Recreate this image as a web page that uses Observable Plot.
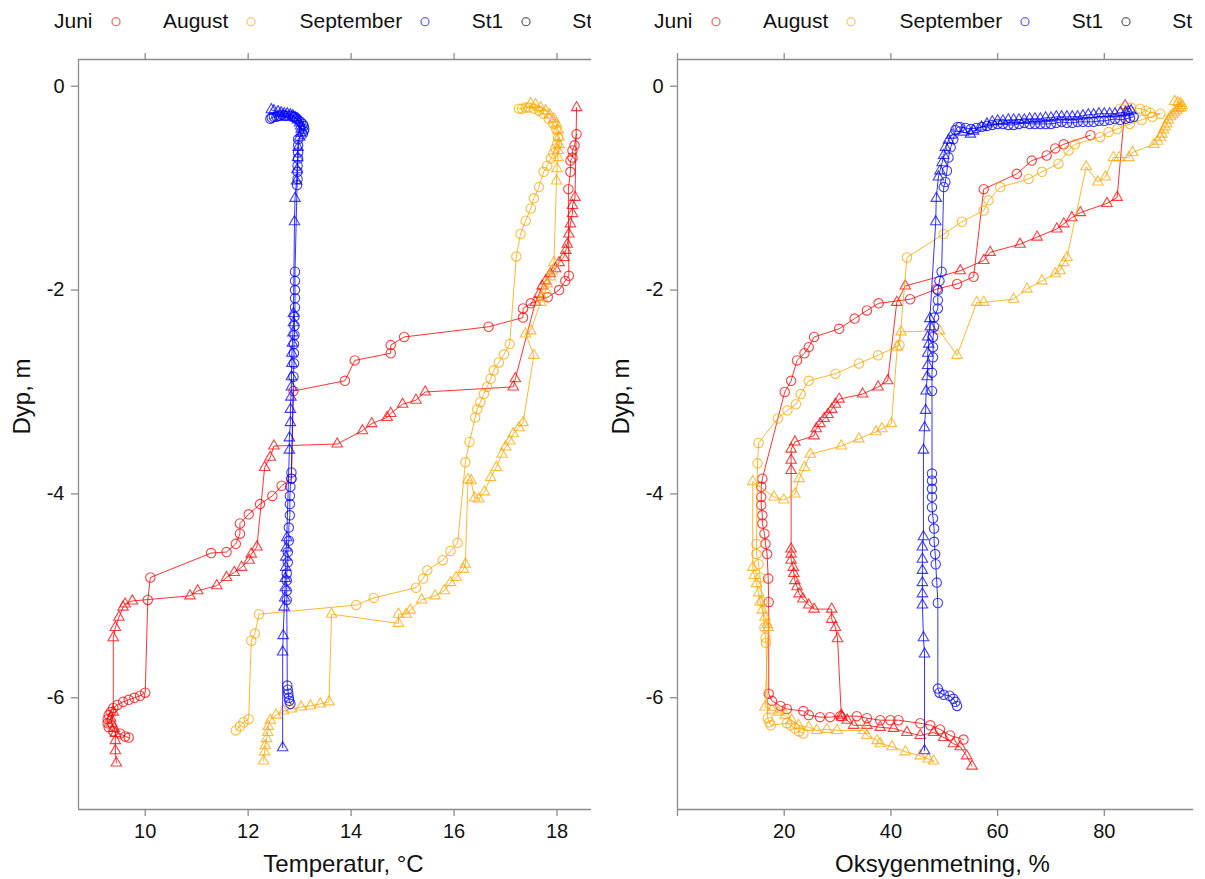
<!DOCTYPE html>
<html><head><meta charset="utf-8">
<script src="https://cdn.jsdelivr.net/npm/d3@7"></script>
<script src="https://cdn.jsdelivr.net/npm/@observablehq/plot@0.6"></script>
<style>
body{margin:0;background:#fff;font-family:"Liberation Sans",Arial,sans-serif;}
#wrap{position:relative;width:1205px;height:879px;overflow:hidden;background:#fff;}
.panel{position:absolute;top:0;height:879px;overflow:hidden;}
.legend{position:absolute;top:0;left:0;height:40px;width:700px;font-size:21px;color:#111;}
.legend span{position:absolute;top:7px;line-height:28px;white-space:nowrap;}
.legend svg{position:absolute;top:0;}
.chart{position:absolute;top:40px;left:0;width:620px;height:839px;}
.chart svg{max-width:none !important;width:620px !important;height:839px !important;display:block;}
</style></head>
<body><div id="wrap">
<div class="panel" id="p1" style="left:0;width:591px"></div>
<div class="panel" id="p2" style="left:600px;width:593px"></div>
</div>
<script>
// ---------- DATA: [depth (m), value] ----------
const months = ["Juni", "August", "September"];
const stations = ["St1", "St2"];
const legendLabels = ["Juni", "August", "September", "St1", "St2"];
const tempTicks = [10, 12, 14, 16, 18];
const oxyTicks = [0, 20, 40, 60, 80];
const depthTicks = [0, -2, -4, -6];

// Temperature, °C
const tempJuniSt1 = [[-0.47,18.38],[-0.58,18.34],[-0.63,18.30],[-0.70,18.30],[-0.73,18.26],[-0.84,18.26],[-1.01,18.22],[-1.86,18.23],[-1.91,18.16],[-2.00,18.04],[-2.07,17.82],[-2.13,17.49],[-2.18,17.34],[-2.27,17.34],[-2.36,16.67],[-2.46,15.03],[-2.54,14.77],[-2.62,14.77],[-2.69,14.07],[-2.89,13.88],[-2.99,12.88],[-3.85,12.84],[-3.92,12.65],[-4.02,12.47],[-4.10,12.23],[-4.20,12.01],[-4.29,11.84],[-4.39,11.84],[-4.49,11.76],[-4.57,11.58],[-4.58,11.28],[-4.82,10.10],[-5.04,10.05],[-5.95,10.00],[-5.98,9.90],[-6.00,9.79],[-6.02,9.68],[-6.04,9.57],[-6.07,9.46],[-6.10,9.38],[-6.14,9.33],[-6.17,9.29],[-6.21,9.27],[-6.25,9.27],[-6.29,9.29],[-6.33,9.38],[-6.35,9.51],[-6.38,9.61],[-6.39,9.68]];
const tempJuniSt2 = [[-0.21,18.38],[-1.09,18.35],[-1.17,18.30],[-1.25,18.30],[-1.35,18.26],[-1.45,18.23],[-1.55,18.20],[-1.61,18.17],[-1.68,18.13],[-1.73,18.04],[-1.79,17.97],[-1.84,17.87],[-1.91,17.78],[-1.96,17.71],[-2.04,17.65],[-2.12,17.58],[-2.87,17.19],[-2.95,17.15],[-3.00,15.44],[-3.08,15.26],[-3.12,15.00],[-3.21,14.77],[-3.25,14.70],[-3.31,14.40],[-3.38,14.22],[-3.51,13.73],[-3.53,12.50],[-3.64,12.43],[-3.74,12.32],[-4.52,12.17],[-4.59,12.06],[-4.65,12.02],[-4.72,11.87],[-4.77,11.73],[-4.82,11.58],[-4.90,11.39],[-4.95,11.02],[-5.00,10.87],[-5.05,9.75],[-5.08,9.61],[-5.11,9.57],[-5.21,9.49],[-5.31,9.42],[-5.41,9.38],[-6.14,9.38],[-6.20,9.33],[-6.25,9.35],[-6.30,9.40],[-6.35,9.42],[-6.42,9.42],[-6.52,9.42],[-6.64,9.44]];
const tempAugSt1 = [[-0.22,17.26],[-0.22,17.32],[-0.21,17.39],[-0.21,17.45],[-0.22,17.55],[-0.24,17.65],[-0.27,17.74],[-0.32,17.84],[-0.37,17.93],[-0.43,17.99],[-0.50,18.02],[-0.57,18.00],[-0.61,17.97],[-0.66,17.93],[-0.71,17.88],[-0.78,17.81],[-0.84,17.74],[-0.99,17.65],[-1.10,17.55],[-1.20,17.49],[-1.32,17.39],[-1.45,17.29],[-1.67,17.21],[-2.53,17.08],[-2.63,16.97],[-2.71,16.87],[-2.79,16.77],[-2.87,16.71],[-2.95,16.64],[-3.02,16.58],[-3.10,16.51],[-3.17,16.45],[-3.25,16.41],[-3.49,16.30],[-3.69,16.22],[-4.48,16.07],[-4.56,15.93],[-4.65,15.78],[-4.75,15.48],[-4.83,15.40],[-4.92,15.26],[-5.02,14.44],[-5.09,14.10],[-5.18,12.21],[-5.37,12.13],[-5.44,12.06],[-6.21,12.01],[-6.24,11.91],[-6.28,11.84],[-6.32,11.76]];
const tempAugSt2 = [[-0.17,17.49],[-0.18,17.58],[-0.21,17.68],[-0.24,17.78],[-0.28,17.86],[-0.32,17.94],[-0.37,17.99],[-0.43,18.02],[-0.50,18.04],[-0.57,18.04],[-0.63,18.02],[-0.70,18.02],[-0.81,18.00],[-0.93,17.99],[-1.73,17.94],[-1.81,17.91],[-1.87,17.87],[-1.94,17.81],[-2.00,17.78],[-2.07,17.71],[-2.12,17.68],[-2.40,17.49],[-2.43,17.39],[-2.64,17.55],[-3.30,17.34],[-3.35,17.26],[-3.41,17.15],[-3.48,17.08],[-3.54,17.00],[-3.61,16.93],[-3.74,16.82],[-3.84,16.71],[-3.98,16.59],[-4.05,16.48],[-4.04,16.40],[-3.87,16.33],[-3.86,16.27],[-4.69,16.22],[-4.74,16.18],[-4.82,16.04],[-4.87,15.93],[-4.95,15.81],[-5.00,15.63],[-5.04,15.37],[-5.14,15.15],[-5.18,15.07],[-5.18,14.92],[-5.27,14.92],[-5.18,13.62],[-6.04,13.57],[-6.06,13.40],[-6.08,13.21],[-6.09,13.03],[-6.11,12.84],[-6.13,12.69],[-6.17,12.54],[-6.22,12.43],[-6.28,12.39],[-6.34,12.38],[-6.40,12.36],[-6.47,12.33],[-6.53,12.32],[-6.62,12.30]];
const tempSepSt1 = [[-0.32,12.43],[-0.31,12.46],[-0.30,12.50],[-0.30,12.55],[-0.29,12.59],[-0.29,12.62],[-0.28,12.66],[-0.29,12.70],[-0.29,12.73],[-0.29,12.78],[-0.29,12.84],[-0.30,12.88],[-0.30,12.91],[-0.32,12.95],[-0.34,12.99],[-0.35,13.02],[-0.37,13.06],[-0.39,13.08],[-0.42,13.09],[-0.44,13.08],[-0.47,13.06],[-0.52,12.97],[-0.58,12.97],[-0.65,12.97],[-0.71,12.97],[-0.78,12.96],[-0.84,12.96],[-0.91,12.96],[-0.97,12.95],[-1.82,12.91],[-1.91,12.91],[-2.00,12.91],[-2.08,12.91],[-2.17,12.91],[-2.26,12.90],[-2.35,12.90],[-2.44,12.90],[-2.53,12.89],[-2.62,12.89],[-2.72,12.89],[-2.85,12.88],[-3.79,12.84],[-3.85,12.84],[-3.93,12.82],[-4.02,12.81],[-4.10,12.81],[-4.21,12.81],[-4.33,12.79],[-4.46,12.79],[-4.57,12.77],[-4.67,12.77],[-4.78,12.75],[-4.85,12.75],[-4.95,12.75],[-5.04,12.75],[-5.88,12.76],[-5.92,12.77],[-5.96,12.78],[-6.00,12.79],[-6.03,12.80],[-6.06,12.82]];
const tempSepSt2 = [[-0.23,12.45],[-0.24,12.50],[-0.25,12.58],[-0.26,12.64],[-0.27,12.70],[-0.27,12.76],[-0.28,12.82],[-0.29,12.87],[-0.31,12.92],[-0.33,12.96],[-0.36,13.00],[-0.39,13.02],[-0.42,13.03],[-0.46,13.02],[-0.50,13.00],[-0.60,12.97],[-0.70,12.96],[-0.82,12.95],[-0.93,12.94],[-1.10,12.91],[-1.33,12.90],[-2.23,12.88],[-2.32,12.88],[-2.42,12.87],[-2.52,12.86],[-2.62,12.85],[-2.72,12.85],[-2.85,12.84],[-2.95,12.84],[-3.05,12.83],[-3.17,12.82],[-3.30,12.82],[-3.45,12.80],[-3.57,12.80],[-4.43,12.75],[-4.53,12.74],[-4.62,12.73],[-4.72,12.73],[-4.83,12.72],[-4.92,12.72],[-5.02,12.71],[-5.11,12.70],[-5.39,12.68],[-5.55,12.67],[-6.49,12.67]];

// Oxygen saturation, %
const oxyJuniSt1 = [[-0.48,77.4],[-0.57,72.4],[-0.61,70.8],[-0.68,69.2],[-0.73,66.4],[-0.86,63.6],[-1.01,57.4],[-1.87,55.5],[-1.94,52.4],[-1.99,48.6],[-2.09,43.6],[-2.13,37.7],[-2.20,35.5],[-2.28,33.2],[-2.38,30.3],[-2.46,25.6],[-2.56,24.6],[-2.62,23.8],[-2.69,22.4],[-2.89,21.3],[-3.00,20.1],[-3.85,15.9],[-3.93,15.7],[-4.03,15.7],[-4.11,15.7],[-4.21,15.9],[-4.29,15.9],[-4.39,16.3],[-4.49,16.5],[-4.59,16.8],[-4.83,17.0],[-5.06,17.1],[-5.96,17.1],[-6.03,17.7],[-6.08,19.3],[-6.11,20.5],[-6.13,23.6],[-6.17,24.6],[-6.19,26.7],[-6.19,28.6],[-6.18,30.5],[-6.18,33.6],[-6.20,35.5],[-6.22,38.0],[-6.22,39.9],[-6.22,41.4],[-6.25,45.5],[-6.27,47.4],[-6.31,49.2],[-6.37,51.1],[-6.41,53.6]];
const oxyJuniSt2 = [[-0.19,83.9],[-1.09,82.4],[-1.15,80.5],[-1.24,75.5],[-1.29,73.9],[-1.35,72.4],[-1.40,71.1],[-1.48,67.4],[-1.55,64.2],[-1.63,58.6],[-1.71,57.4],[-1.81,53.0],[-1.96,42.7],[-2.12,41.1],[-2.89,39.4],[-2.95,37.6],[-3.02,34.7],[-3.07,30.3],[-3.12,29.6],[-3.17,28.9],[-3.22,28.2],[-3.26,27.5],[-3.31,26.7],[-3.36,26.0],[-3.43,25.6],[-3.49,22.0],[-3.56,21.3],[-3.67,21.3],[-3.77,21.3],[-4.54,21.3],[-4.59,21.3],[-4.65,21.3],[-4.72,21.7],[-4.78,21.8],[-4.85,22.0],[-4.91,22.4],[-4.98,22.8],[-5.03,23.5],[-5.09,24.6],[-5.13,25.6],[-5.13,28.9],[-5.23,28.9],[-5.31,29.6],[-5.42,30.0],[-6.17,30.7],[-6.19,30.8],[-6.22,31.8],[-6.27,33.0],[-6.27,35.5],[-6.29,38.0],[-6.30,40.5],[-6.34,43.0],[-6.37,45.5],[-6.34,48.0],[-6.39,49.9],[-6.45,51.7],[-6.48,53.0],[-6.57,54.2],[-6.67,55.2]];
const oxyAugSt1 = [[-0.22,83.0],[-0.21,85.0],[-0.22,86.7],[-0.24,87.8],[-0.26,88.6],[-0.27,90.5],[-0.30,89.0],[-0.33,87.0],[-0.37,84.8],[-0.42,82.4],[-0.45,80.8],[-0.50,79.2],[-0.57,74.5],[-0.63,73.3],[-0.76,71.4],[-0.84,68.3],[-0.91,65.8],[-0.99,60.5],[-1.12,58.3],[-1.22,57.4],[-1.33,53.3],[-1.45,49.9],[-1.68,43.0],[-2.54,41.6],[-2.64,37.6],[-2.72,34.0],[-2.82,29.6],[-2.89,24.6],[-3.02,23.1],[-3.12,22.2],[-3.18,20.6],[-3.26,18.8],[-3.50,15.2],[-3.70,15.0],[-4.49,14.8],[-4.59,14.8],[-4.69,15.2],[-4.82,15.5],[-5.06,15.9],[-5.31,16.3],[-5.41,16.5],[-5.46,16.6],[-6.20,16.9],[-6.24,17.2],[-6.27,17.5],[-6.25,20.5],[-6.27,21.2],[-6.30,22.0],[-6.33,22.8],[-6.35,23.6]];
const oxyAugSt2 = [[-0.15,93.2],[-0.16,93.8],[-0.17,94.3],[-0.19,94.6],[-0.21,94.4],[-0.22,94.0],[-0.24,93.6],[-0.26,93.2],[-0.28,92.8],[-0.30,92.4],[-0.33,92.0],[-0.37,91.7],[-0.40,91.4],[-0.43,91.1],[-0.47,90.8],[-0.50,90.5],[-0.54,90.0],[-0.57,89.3],[-0.65,85.3],[-0.70,84.6],[-0.70,82.8],[-0.70,81.7],[-0.89,80.2],[-0.94,78.8],[-0.79,76.6],[-1.68,73.0],[-1.73,72.4],[-1.81,71.7],[-1.84,70.8],[-1.91,68.3],[-1.99,65.5],[-2.09,63.0],[-2.12,57.4],[-2.12,56.1],[-2.64,52.4],[-2.40,49.1],[-2.41,41.9],[-2.56,41.2],[-3.31,40.1],[-3.36,38.3],[-3.39,37.2],[-3.46,34.0],[-3.53,30.7],[-3.61,24.9],[-3.74,23.8],[-3.85,22.8],[-4.00,22.0],[-4.06,19.9],[-4.03,18.1],[-3.88,14.1],[-4.72,14.1],[-4.80,14.4],[-4.88,14.8],[-4.97,15.2],[-5.06,15.5],[-5.14,15.9],[-5.21,16.4],[-5.28,16.8],[-5.31,17.0],[-6.09,16.4],[-6.12,17.7],[-6.14,18.9],[-6.17,20.2],[-6.22,21.4],[-6.27,22.7],[-6.29,24.6],[-6.32,26.1],[-6.31,28.0],[-6.32,29.9],[-6.32,34.9],[-6.37,35.5],[-6.42,37.4],[-6.45,38.0],[-6.48,40.2],[-6.53,42.7],[-6.57,45.5],[-6.60,47.0],[-6.62,48.0]];
const oxySepSt1 = [[-0.30,85.5],[-0.31,84.8],[-0.32,84.0],[-0.33,83.0],[-0.32,82.0],[-0.33,81.0],[-0.34,80.0],[-0.34,79.0],[-0.35,78.0],[-0.35,77.0],[-0.35,76.0],[-0.35,75.0],[-0.36,74.0],[-0.36,73.0],[-0.35,72.0],[-0.36,71.0],[-0.37,70.0],[-0.37,69.0],[-0.37,68.0],[-0.37,67.0],[-0.37,66.0],[-0.36,65.0],[-0.37,64.0],[-0.38,63.0],[-0.38,62.0],[-0.37,61.0],[-0.37,60.0],[-0.38,59.0],[-0.39,58.0],[-0.40,57.0],[-0.41,56.0],[-0.42,55.0],[-0.41,54.0],[-0.40,53.0],[-0.40,52.5],[-0.43,52.1],[-0.52,51.7],[-0.60,51.2],[-0.70,50.8],[-0.83,50.5],[-0.94,50.2],[-0.99,49.9],[-1.82,49.5],[-1.91,49.1],[-2.00,48.8],[-2.10,48.8],[-2.18,48.8],[-2.27,48.1],[-2.36,48.1],[-2.46,47.9],[-2.56,47.9],[-2.66,47.9],[-2.81,47.7],[-2.99,47.7],[-3.80,47.7],[-3.87,47.7],[-3.95,47.7],[-4.03,47.7],[-4.13,47.7],[-4.24,47.9],[-4.34,48.1],[-4.47,48.1],[-4.59,48.3],[-4.69,48.4],[-4.87,48.6],[-5.07,48.8],[-5.91,48.8],[-5.95,49.1],[-5.97,49.9],[-5.98,51.0],[-6.01,51.7],[-6.04,52.1],[-6.08,52.4]];
const oxySepSt2 = [[-0.24,85.0],[-0.25,84.5],[-0.26,84.0],[-0.26,83.0],[-0.27,82.0],[-0.27,81.0],[-0.27,80.0],[-0.27,79.0],[-0.28,78.0],[-0.28,77.0],[-0.29,76.0],[-0.30,75.0],[-0.30,74.0],[-0.30,73.0],[-0.30,72.0],[-0.30,71.0],[-0.31,70.0],[-0.31,69.0],[-0.32,68.0],[-0.32,67.0],[-0.32,66.0],[-0.33,65.0],[-0.33,64.0],[-0.33,63.0],[-0.33,62.0],[-0.34,61.0],[-0.34,60.0],[-0.35,59.0],[-0.37,58.0],[-0.40,57.0],[-0.44,55.5],[-0.47,54.9],[-0.45,53.6],[-0.48,51.4],[-0.53,50.8],[-0.60,50.2],[-0.68,49.9],[-0.75,49.6],[-0.83,49.2],[-0.89,48.9],[-1.10,48.5],[-1.33,48.4],[-2.28,47.3],[-2.36,47.4],[-2.46,46.9],[-2.53,47.1],[-2.62,46.9],[-2.74,46.9],[-2.85,46.8],[-2.99,46.6],[-3.18,46.5],[-3.35,46.3],[-3.57,46.1],[-4.42,46.1],[-4.52,45.9],[-4.64,45.9],[-4.75,45.9],[-4.87,45.9],[-4.98,45.9],[-5.09,45.9],[-5.41,46.1],[-5.57,46.3],[-6.52,46.3]];

// ---------- RENDER ----------
const monthColor = {Juni: "#ff0000", August: "#ffa500", September: "#0000ff"};
const axisGray = "#8c8c8c";
const FONT = "'Liberation Sans', Arial, sans-serif";

const tempSeries = [
  ["Juni", "St1", tempJuniSt1], ["Juni", "St2", tempJuniSt2],
  ["August", "St1", tempAugSt1], ["August", "St2", tempAugSt2],
  ["September", "St1", tempSepSt1], ["September", "St2", tempSepSt2]
];
const oxySeries = [
  ["Juni", "St1", oxyJuniSt1], ["Juni", "St2", oxyJuniSt2],
  ["August", "St1", oxyAugSt1], ["August", "St2", oxyAugSt2],
  ["September", "St1", oxySepSt1], ["September", "St2", oxySepSt2]
];

function buildLegend(container) {
  const textX = [54, 163, 299.5, 471.7, 572.2];
  const symX = [115.5, 250.7, 424.8, 526.4, 625];
  const symColor = ["rgba(255,0,0,0.6)", "rgba(255,165,0,0.6)", "rgba(0,0,255,0.6)", "rgba(0,0,0,0.6)", "rgba(0,0,0,0.6)"];
  const lg = document.createElement("div");
  lg.className = "legend";
  legendLabels.forEach((lab, i) => {
    const s = document.createElement("span");
    s.textContent = lab;
    s.style.left = textX[i] + "px";
    lg.appendChild(s);
    const ns = "http://www.w3.org/2000/svg";
    const sv = document.createElementNS(ns, "svg");
    sv.setAttribute("width", 14); sv.setAttribute("height", 40);
    sv.style.left = (symX[i] - 7) + "px";
    let shape;
    if (i === 4) {
      shape = document.createElementNS(ns, "path");
      shape.setAttribute("d", "M7,17L11.5,25.5L2.5,25.5Z");
    } else {
      shape = document.createElementNS(ns, "circle");
      shape.setAttribute("cx", 7); shape.setAttribute("cy", 21.7); shape.setAttribute("r", 4);
    }
    shape.setAttribute("fill", "none");
    shape.setAttribute("stroke", symColor[i]);
    shape.setAttribute("stroke-width", 1.3);
    sv.appendChild(shape);
    lg.appendChild(sv);
  });
  container.appendChild(lg);
}

function buildPanel(container, series, xDomain, xTicks, xLabelFmt, xTitle, marginLeft) {
  const yDomain = [-7.096, 0.262];
  const marks = [
    Plot.ruleY([yDomain[1]], {stroke: axisGray, strokeWidth: 1.3}),
    Plot.ruleY([yDomain[0]], {stroke: axisGray, strokeWidth: 1.3}),
    Plot.ruleX([xDomain[0]], {stroke: axisGray, strokeWidth: 1.3}),
    Plot.axisY({ticks: depthTicks, tickSize: 7, tickPadding: 7, tickFormat: d => String(d),
      stroke: axisGray, fill: "#111", strokeWidth: 1.3, fontSize: 20, label: null}),
    Plot.axisX({anchor: "bottom", ticks: xTicks, tickSize: 7, tickPadding: 7, tickFormat: xLabelFmt,
      stroke: axisGray, fill: "#111", strokeWidth: 1.3, fontSize: 20, label: null}),
    Plot.axisX({anchor: "top", ticks: xTicks, tickSize: 7, tickFormat: () => "",
      stroke: axisGray, strokeWidth: 1.3, label: null}),
    Plot.text([xTitle], {text: d => d, frameAnchor: "bottom", dy: 54.5, fontSize: 24, fill: "#111", lineAnchor: "middle"}),
    Plot.text(["Dyp, m"], {text: d => d, frameAnchor: "left", dx: -56, rotate: -90, fontSize: 24, fill: "#111", lineAnchor: "middle"})
  ];
  for (const [m, st, data] of series) {
    const c = monthColor[m];
    marks.push(Plot.line(data, {x: d => d[1], y: d => d[0], stroke: c, strokeWidth: 1, strokeOpacity: 0.8}));
    marks.push(Plot.dot(data, {x: d => d[1], y: d => d[0], stroke: c, fill: "none",
      symbol: st === "St1" ? "circle" : "triangle", r: st === "St1" ? 4.7 : 3.9,
      strokeWidth: 1.1, strokeOpacity: 0.75}));
  }
  const svg = Plot.plot({
    width: 620, height: 839,
    marginLeft: marginLeft, marginRight: 620 - marginLeft - 530, marginTop: 19, marginBottom: 70,
    x: {domain: xDomain, axis: null},
    y: {domain: yDomain, axis: null},
    style: {fontFamily: FONT, fontSize: "20px", color: "#111", background: "transparent", overflow: "visible", maxWidth: "none"},
    marks
  });
  const holder = document.createElement("div");
  holder.className = "chart";
  holder.appendChild(svg);
  container.appendChild(holder);
}

const p1 = document.getElementById("p1");
const p2 = document.getElementById("p2");
buildLegend(p1);
buildLegend(p2);
buildPanel(p1, tempSeries, [8.704, 19.0], tempTicks, d => String(d), "Temperatur, °C", 78);
buildPanel(p2, oxySeries, [0, 99.34], oxyTicks, d => d === 0 ? "" : String(d), "Oksygenmetning, %", 77);
</script>
</body></html>
